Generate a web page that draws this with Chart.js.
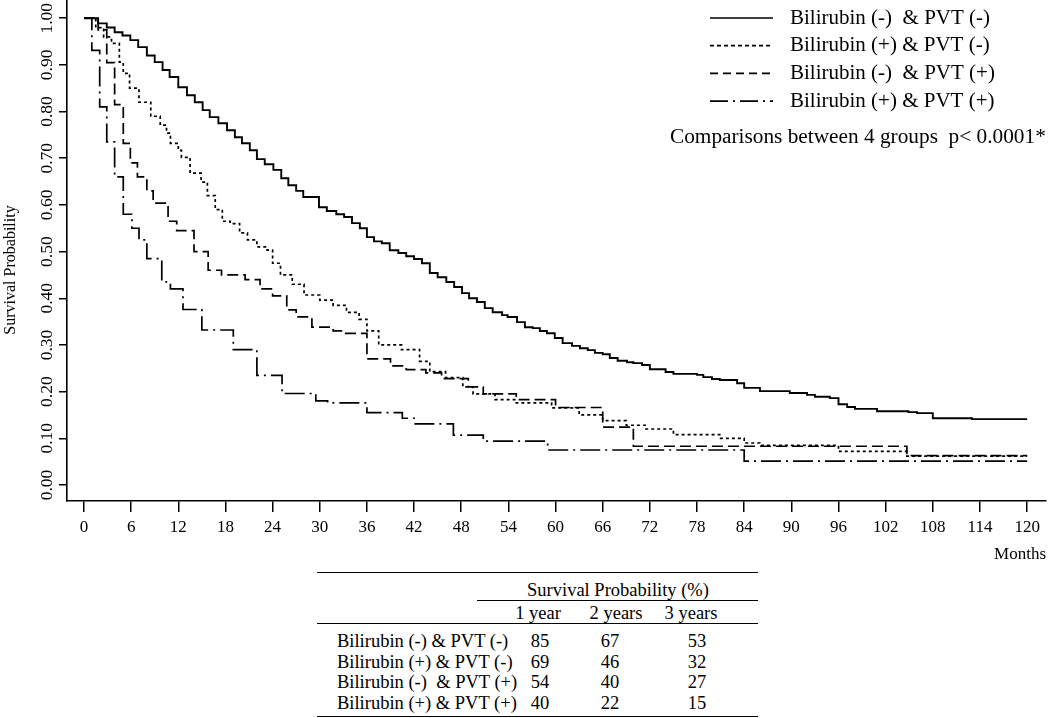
<!DOCTYPE html>
<html>
<head>
<meta charset="utf-8">
<script src="https://cdn.jsdelivr.net/npm/chart.js@4.4.0/dist/chart.umd.min.js"></script>
<style>
  body { margin: 0; background: #fff; }
  #wrap { position: relative; width: 1050px; height: 718px; font-family: "Liberation Serif", "Times New Roman", serif; color: #000; overflow: hidden; }
  #chart { position: absolute; left: 0; top: 0; }
  .rule { position: absolute; height: 0; border-top: 1.5px solid #000; }
  .t { position: absolute; font-size: 18.5px; line-height: 1; white-space: pre; transform: translate(-50%, -50%); }
  .t.l { transform: translate(0, -50%); }
</style>
</head>
<body>
<div id="wrap">
  <canvas id="chart" width="1050" height="565"></canvas>
</div>
<script>
// grupos
const groupLabels = ['Bilirubin (-)  & PVT (-)', 'Bilirubin (+) & PVT (-)', 'Bilirubin (-)  & PVT (+)', 'Bilirubin (+) & PVT (+)'];

// Bilirubin (-) & PVT (-)
const t1 = [0, 1.8, 2.9, 3.9, 4.9, 5.9, 6.9, 8.0, 9.0, 10.0, 10.9, 12.0, 13.1, 14.1, 15.1, 16.0, 17.1, 18.2, 19.2, 20.1,
  21.1, 22.0, 23.0, 24.1, 25.1, 26.0, 27.0, 27.9, 29.9, 30.9, 32.1, 33.1, 34.1, 35.1, 36.0, 36.9, 37.9, 38.9, 40.0, 41.0,
  42.0, 43.0, 44.0, 45.0, 46.1, 47.1, 48.1, 49.0, 50.0, 51.0, 52.0, 53.2, 53.9, 55.1, 56.1, 57.1, 58.0, 58.9, 59.9, 60.9,
  62.1, 63.1, 64.1, 65.0, 66.0, 66.9, 67.9, 69.1, 69.9, 71.0, 72.0, 74.0, 75.0, 78.0, 78.8, 79.9, 80.9, 83.1, 84.0, 86.0,
  89.8, 92.0, 93.0, 94.9, 96.0, 97.1, 98.1, 100.9, 104.9, 106.0, 108.0, 113.0, 120];
const s1 = [1.00, 0.989, 0.98, 0.97, 0.963, 0.953, 0.938, 0.92, 0.906, 0.889, 0.874, 0.852, 0.835, 0.82, 0.803, 0.788, 0.775, 0.76, 0.745, 0.732,
  0.717, 0.698, 0.687, 0.675, 0.657, 0.642, 0.63, 0.617, 0.595, 0.587, 0.58, 0.574, 0.561, 0.55, 0.531, 0.522, 0.518, 0.503, 0.497, 0.49,
  0.484, 0.475, 0.454, 0.445, 0.435, 0.424, 0.411, 0.40, 0.392, 0.379, 0.37, 0.364, 0.36, 0.349, 0.338, 0.336, 0.33, 0.325, 0.315, 0.304,
  0.298, 0.293, 0.289, 0.283, 0.28, 0.272, 0.266, 0.263, 0.261, 0.257, 0.248, 0.242, 0.238, 0.236, 0.231, 0.227, 0.225, 0.218, 0.208, 0.201,
  0.197, 0.193, 0.189, 0.186, 0.173, 0.167, 0.163, 0.158, 0.156, 0.154, 0.143, 0.141, 0.141];

// Bilirubin (+) & PVT (-)
const t2 = [0, 1.5, 2.5, 3.5, 4.5, 5.0, 5.8, 7.0, 8.5, 9.7, 10.5, 11.0, 12.0, 12.4, 13.5, 14.9, 15.7, 16.7, 17.6, 18.6,
  19.8, 20.8, 22.0, 23.3, 24.0, 25.0, 26.5, 28.0, 30.0, 31.7, 33.4, 35.0, 36.0, 37.5, 40.4, 42.7, 44.0, 46.0, 48.2, 49.5,
  52.3, 55.0, 59.5, 63.0, 66.0, 69.0, 71.5, 75.0, 81.0, 84.0, 86.0, 96.0, 104.7, 120];
const s2 = [1.0, 0.98, 0.96, 0.946, 0.906, 0.882, 0.85, 0.82, 0.79, 0.771, 0.754, 0.732, 0.717, 0.702, 0.668, 0.649, 0.62, 0.59, 0.565, 0.56,
  0.54, 0.525, 0.51, 0.503, 0.475, 0.45, 0.43, 0.407, 0.396, 0.385, 0.37, 0.355, 0.33, 0.30, 0.29, 0.265, 0.243, 0.23, 0.21, 0.195,
  0.183, 0.176, 0.165, 0.15, 0.138, 0.128, 0.12, 0.108, 0.10, 0.09, 0.085, 0.072, 0.062, 0.062];

// Bilirubin (-) & PVT (+)
const t3 = [0, 1.8, 2.9, 3.9, 5.0, 5.9, 6.8, 8.0, 8.8, 10.7, 11.8, 14.0, 15.8, 17.5, 20.5, 22.4, 24.0, 25.8, 27.0, 29.0,
  31.7, 33.0, 36.0, 39.0, 41.0, 43.5, 45.5, 48.9, 50.8, 55.0, 60.0, 66.0, 69.9, 104.7, 120];
const s3 = [1.0, 0.975, 0.905, 0.815, 0.732, 0.69, 0.66, 0.63, 0.604, 0.565, 0.545, 0.50, 0.46, 0.45, 0.44, 0.42, 0.405, 0.375, 0.36, 0.338,
  0.33, 0.325, 0.27, 0.255, 0.247, 0.24, 0.228, 0.21, 0.195, 0.183, 0.166, 0.124, 0.083, 0.063, 0.063];

// Bilirubin (+) & PVT (+)
const t4 = [0, 1.0, 2.0, 2.9, 3.9, 5.0, 6.1, 7.0, 8.0, 9.9, 11.0, 12.6, 15.0, 19.0, 22.0, 25.2, 29.5, 31.0, 36.0, 40.5,
  42.0, 47.0, 50.8, 59.0, 84.0, 120];
const s4 = [1.0, 0.931, 0.81, 0.735, 0.66, 0.58, 0.55, 0.525, 0.485, 0.435, 0.42, 0.376, 0.332, 0.29, 0.235, 0.196, 0.18, 0.176, 0.155, 0.143,
  0.131, 0.107, 0.094, 0.075, 0.051, 0.051];

const xTicks = [0, 6, 12, 18, 24, 30, 36, 42, 48, 54, 60, 66, 72, 78, 84, 90, 96, 102, 108, 114, 120];
const yTicks = [0, 0.1, 0.2, 0.3, 0.4, 0.5, 0.6, 0.7, 0.8, 0.9, 1.0];

// tabela
const tableGroups = ['Bilirubin (-) & PVT (-)', 'Bilirubin (+) & PVT (-)', 'Bilirubin (-)  & PVT (+)', 'Bilirubin (+) & PVT (+)'];
const tableYears = ['1 year', '2 years', '3 years'];
const survPct = [[85, 67, 53], [69, 46, 32], [54, 40, 27], [40, 22, 15]];
const pText = 'Comparisons between 4 groups  p< 0.0001*';

const serif = '"Liberation Serif", "Times New Roman", serif';

function pontos(ts, ss) {
    return ts.map((t, i) => ({ x: t, y: ss[i] }));
}

// legenda e titulo do eixo y desenhados a mao
const legendaKM = {
    id: 'legendaKM',
    afterDraw(chart) {
        const ctx = chart.ctx;
        const legendDash = [[], [4, 3], [8, 5], [18, 5, 2, 5]];
        ctx.save();
        ctx.fillStyle = '#000';
        ctx.strokeStyle = '#000';
        ctx.font = '21px ' + serif;
        ctx.textBaseline = 'middle';
        chart.data.datasets.forEach((ds, i) => {
            const y = 18 + i * 27.7;
            ctx.beginPath();
            ctx.setLineDash(legendDash[i]);
            ctx.lineWidth = 1.7;
            ctx.moveTo(710, y);
            ctx.lineTo(773, y);
            ctx.stroke();
            ctx.setLineDash([]);
            ctx.fillText(ds.label, 790, y);
        });
        ctx.font = '21.3px ' + serif;
        ctx.fillText(pText, 670, 137);

        ctx.translate(11, 270);
        ctx.rotate(-Math.PI / 2);
        ctx.textAlign = 'center';
        ctx.font = '16px ' + serif;
        ctx.fillText('Survival Probability', 0, 0);
        ctx.restore();
    }
};

const base = { borderColor: '#000', pointRadius: 0, fill: false, stepped: 'before' };

new Chart(document.getElementById('chart'), {
    type: 'line',
    data: {
        datasets: [
            { ...base, label: groupLabels[0], data: pontos(t1, s1), borderWidth: 1.9, borderDash: [] },
            { ...base, label: groupLabels[1], data: pontos(t2, s2), borderWidth: 1.7, borderDash: [3, 3] },
            { ...base, label: groupLabels[2], data: pontos(t3, s3), borderWidth: 1.7, borderDash: [11, 5] },
            { ...base, label: groupLabels[3], data: pontos(t4, s4), borderWidth: 1.7, borderDash: [20, 5, 2, 5] }
        ]
    },
    options: {
        responsive: false,
        animation: false,
        layout: { padding: { left: 0, top: 0, right: 4, bottom: 0 } },
        plugins: { legend: { display: false }, tooltip: { enabled: false } },
        scales: {
            x: {
                type: 'linear',
                min: -2.16,
                max: 122.4,
                afterBuildTicks: s => { s.ticks = xTicks.map(v => ({ value: v })); },
                afterFit: s => { s.height = 64; s.paddingLeft = 0; s.paddingRight = 0; },
                ticks: { autoSkip: false, maxRotation: 0, padding: 5, color: '#000', font: { family: serif, size: 17 } },
                grid: { drawOnChartArea: false, tickLength: 11, color: '#000', lineWidth: 1.5 },
                border: { color: '#000', width: 1.6 },
                title: { display: true, text: 'Months', align: 'end', color: '#000', padding: { top: 0, bottom: 0 }, font: { family: serif, size: 17 } }
            },
            y: {
                min: -0.0343,
                max: 1.039,
                afterBuildTicks: s => { s.ticks = yTicks.map(v => ({ value: v })); },
                afterFit: s => { s.width = 67; s.paddingTop = 0; s.paddingBottom = 0; },
                ticks: {
                    autoSkip: false, minRotation: 90, maxRotation: 90, crossAlign: 'center', padding: -4,
                    color: '#000', font: { family: serif, size: 17.5 },
                    callback: v => v.toFixed(2)
                },
                grid: { drawOnChartArea: false, tickLength: 8, color: '#000', lineWidth: 1.5 },
                border: { color: '#000', width: 1.6 }
            }
        }
    },
    plugins: [legendaKM]
});

// tabela de sobrevida em HTML
const wrap = document.getElementById('wrap');
function regra(x1, x2, y) {
    const d = document.createElement('div');
    d.className = 'rule';
    d.style.left = x1 + 'px';
    d.style.width = (x2 - x1) + 'px';
    d.style.top = y + 'px';
    wrap.appendChild(d);
}
function texto(txt, x, y, esquerda) {
    const d = document.createElement('div');
    d.className = esquerda ? 't l' : 't';
    d.textContent = txt;
    d.style.left = x + 'px';
    d.style.top = y + 'px';
    wrap.appendChild(d);
}

regra(317, 758, 572);
regra(477, 758, 600);
regra(317, 758, 623);
regra(317, 758, 716);
texto('Survival Probability (%)', 618, 590);
const colX = [538, 616, 691];
const valX = [540, 610, 697];
tableYears.forEach((h, j) => texto(h, colX[j], 613));
tableGroups.forEach((g, i) => {
    const y = 641 + i * 20.7;
    texto(g, 337, y, true);
    survPct[i].forEach((v, j) => texto(String(v), valX[j], y));
});
</script>
</body>
</html>
